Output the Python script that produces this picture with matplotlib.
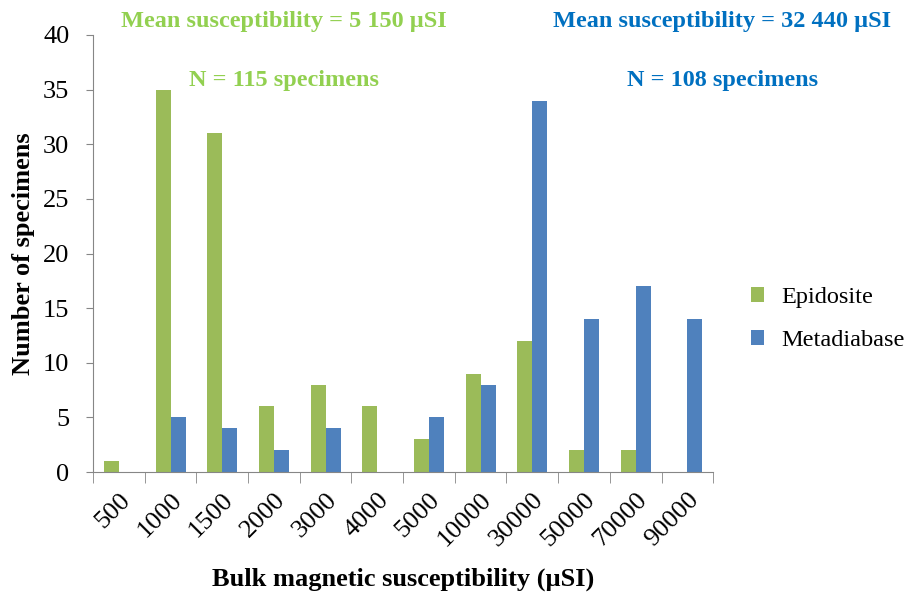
import numpy as np
import matplotlib.pyplot as plt

plt.rcParams['font.family'] = ['Liberation Serif', 'DejaVu Serif']

categories = ['500', '1000', '1500', '2000', '3000', '4000', '5000',
              '10000', '30000', '50000', '70000', '90000']
epidosite = [1, 35, 31, 6, 8, 6, 3, 9, 12, 2, 2, 0]
metadiabase = [0, 5, 4, 2, 4, 0, 5, 8, 34, 14, 17, 14]

green = '#9BBB59'
blue = '#4F81BD'
axis_grey = '#868686'

fig = plt.figure(figsize=(9.12, 5.93), dpi=100)
ax = fig.add_axes([0.102, 0.204, 0.680, 0.737])

x = np.arange(len(categories))
w = 0.29
ax.bar(x - w / 2, epidosite, w, color=green, label='Epidosite')
ax.bar(x + w / 2, metadiabase, w, color=blue, label='Metadiabase')

ax.set_xlim(-0.5, len(categories) - 0.5)
ax.set_ylim(0, 40)
ax.set_yticks(range(0, 41, 5))
ax.tick_params(axis='y', labelsize=19, length=5, color=axis_grey, pad=12)

ax.set_xticks(x)
ax.set_xticklabels(categories, rotation=45, ha='right', rotation_mode='anchor', fontsize=19)
ax.tick_params(axis='x', which='major', length=0, pad=12)
ax.set_xticks(np.arange(-0.5, len(categories)), minor=True)
ax.tick_params(axis='x', which='minor', length=8, color=axis_grey)

for s in ['top', 'right']:
    ax.spines[s].set_visible(False)
for s in ['left', 'bottom']:
    ax.spines[s].set_color(axis_grey)

ax.set_ylabel('Number of specimens', fontsize=19, fontweight='bold', labelpad=6)
fig.text(0.442, 0.013, 'Bulk magnetic susceptibility (µSI)', fontsize=19,
         fontweight='bold', ha='center', va='baseline')

ax.legend(loc='center left', bbox_to_anchor=(1.025, 0.35), frameon=False,
          fontsize=17.5, handlelength=0.55, handleheight=0.55, handletextpad=0.7,
          labelspacing=0.9)

fig.text(0.311, 0.963, 'Mean susceptibility = 5 150 µSI', color='#92D050',
         fontsize=17.5, fontweight='bold', ha='center', va='center')
fig.text(0.311, 0.865, 'N = 115 specimens', color='#92D050',
         fontsize=17.5, fontweight='bold', ha='center', va='center')
fig.text(0.792, 0.963, 'Mean susceptibility = 32 440 µSI', color='#0070C0',
         fontsize=17.5, fontweight='bold', ha='center', va='center')
fig.text(0.792, 0.865, 'N = 108 specimens', color='#0070C0',
         fontsize=17.5, fontweight='bold', ha='center', va='center')

fig.savefig('out.png', dpi=100)
